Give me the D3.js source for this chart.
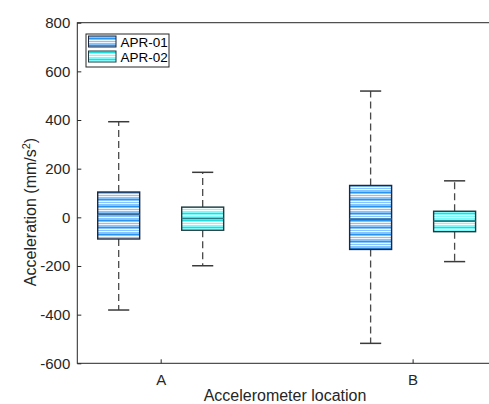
<!DOCTYPE html>
<html>
<head>
<meta charset="utf-8">
<script src="https://cdn.jsdelivr.net/npm/d3@7"></script>
<style>
  html, body { margin: 0; padding: 0; background: #fff; }
  svg { display: block; font-family: Arial, "Liberation Sans", sans-serif; }
</style>
</head>
<body>
<svg id="chart" width="489" height="404"></svg>
<script>
// Accelerometer locations and the two recording series
const locations = ["A", "B"];
const seriesNames = ["APR-01", "APR-02"];

// Five-number summaries per location: [lower whisker, Q1, median, Q3, upper whisker]
const apr01 = [
  [-381, -89, 11, 104, 393],
  [-518, -132, -7, 131, 519]
];
const apr02 = [
  [-199, -53, -4, 42, 185],
  [-182, -59, -16, 25, 150]
];

const yTicks = [-600, -400, -200, 0, 200, 400, 600, 800];

const svg = d3.select("#chart");
const margin = { left: 77.3, top: 22.7, right: 496, bottom: 363.3 };

const x = d3.scaleLinear().domain([0.669, 2.331]).range([margin.left, margin.right]);
const y = d3.scaleLinear().domain([-600, 800]).range([margin.bottom, margin.top]);

const textColor = "#262626";
const fontFamily = "Arial, 'Liberation Sans', sans-serif";

// Striped fills for the two series
const defs = svg.append("defs");
function stripePattern(id, base, light, dark) {
  const p = defs.append("pattern")
    .attr("id", id).attr("patternUnits", "userSpaceOnUse")
    .attr("width", 8).attr("height", 7);
  p.append("rect").attr("width", 8).attr("height", 7).attr("fill", base);
  p.append("rect").attr("y", 0).attr("width", 8).attr("height", 1).attr("fill", light);
  p.append("rect").attr("y", 3).attr("width", 8).attr("height", 1).attr("fill", dark);
  p.append("rect").attr("y", 5).attr("width", 8).attr("height", 1).attr("fill", light);
}
stripePattern("fill01", "#86c4fb", "#eef6ff", "#2793f5");
stripePattern("fill02", "#7ffafa", "#f0ffff", "#22dcdc");

const series = [
  { name: seriesNames[0], data: apr01, offset: -0.1667, fill: "url(#fill01)", median: "#3b6c99", edge: "#1c2740" },
  { name: seriesNames[1], data: apr02, offset: 0.1667, fill: "url(#fill02)", median: "#2a7b86", edge: "#1e3a40" }
];

const halfBox = 0.0833;
const halfCap = 0.042;

// Boxes and whiskers
series.forEach(s => {
  const g = svg.append("g");
  s.data.forEach((d, i) => {
    const cx = i + 1 + s.offset;
    const [lo, q1, med, q3, hi] = d;
    // whiskers
    [[q3, hi], [q1, lo]].forEach(([a, b]) => {
      g.append("line")
        .attr("x1", x(cx)).attr("x2", x(cx))
        .attr("y1", y(a)).attr("y2", y(b))
        .attr("stroke", "#4a4a4a").attr("stroke-width", 1.3)
        .attr("stroke-dasharray", "7,4");
    });
    // caps
    [lo, hi].forEach(v => {
      g.append("line")
        .attr("x1", x(cx - halfCap)).attr("x2", x(cx + halfCap))
        .attr("y1", y(v)).attr("y2", y(v))
        .attr("stroke", "#3a3a3a").attr("stroke-width", 1.5);
    });
    // box
    g.append("rect")
      .attr("x", x(cx - halfBox)).attr("y", y(q3))
      .attr("width", x(cx + halfBox) - x(cx - halfBox))
      .attr("height", y(q1) - y(q3))
      .attr("fill", s.fill)
      .attr("stroke", s.edge).attr("stroke-width", 1.4);
    // median
    g.append("line")
      .attr("x1", x(cx - halfBox)).attr("x2", x(cx + halfBox))
      .attr("y1", y(med)).attr("y2", y(med))
      .attr("stroke", s.median).attr("stroke-width", 1.8);
  });
});

// Axes frame
svg.append("rect")
  .attr("x", margin.left).attr("y", margin.top)
  .attr("width", margin.right - margin.left).attr("height", margin.bottom - margin.top)
  .attr("fill", "none").attr("stroke", textColor).attr("stroke-width", 1);

// Y axis (plain hyphen for negative values)
const yAxis = svg.append("g")
  .attr("transform", `translate(${margin.left},0)`)
  .call(d3.axisLeft(y).tickValues(yTicks).tickFormat(d => String(d))
    .tickSizeInner(-4).tickSizeOuter(0).tickPadding(7));
yAxis.select(".domain").remove();
yAxis.selectAll("line").attr("stroke", textColor);
yAxis.selectAll("text").attr("fill", textColor).style("font-size", "15px")
  .style("font-family", fontFamily);

// X axis
const xAxis = svg.append("g")
  .attr("transform", `translate(0,${margin.bottom})`)
  .call(d3.axisBottom(x).tickValues([1, 2]).tickFormat((d, i) => locations[i])
    .tickSizeInner(-4).tickSizeOuter(0).tickPadding(11));
xAxis.select(".domain").remove();
xAxis.selectAll("line").attr("stroke", textColor);
xAxis.selectAll("text").attr("fill", textColor).style("font-size", "15px")
  .style("font-family", fontFamily);

// Axis titles
svg.append("text")
  .attr("x", 285).attr("y", 401)
  .attr("text-anchor", "middle").attr("fill", textColor)
  .style("font-size", "16px")
  .text("Accelerometer location");

const yTitle = svg.append("text")
  .attr("transform", "translate(35.5,212) rotate(-90)")
  .attr("text-anchor", "middle").attr("fill", textColor)
  .style("font-size", "16px");
yTitle.append("tspan").text("Acceleration (mm/s");
yTitle.append("tspan").attr("dy", -6).style("font-size", "11px").text("2");
yTitle.append("tspan").attr("dy", 6).text(")");

// Legend
const legend = svg.append("g");
legend.append("rect")
  .attr("x", 86).attr("y", 34).attr("width", 83).attr("height", 33)
  .attr("fill", "#fff").attr("stroke", textColor).attr("stroke-width", 1);
series.forEach((s, i) => {
  const yy = 36 + i * 15;
  legend.append("rect")
    .attr("x", 88.5).attr("y", yy).attr("width", 27.5).attr("height", 11)
    .attr("fill", s.fill).attr("stroke", s.edge).attr("stroke-width", 1);
  legend.append("text")
    .attr("x", 120.5).attr("y", yy + 10.5)
    .attr("fill", "#000").style("font-size", "13.5px")
    .text(s.name);
});
</script>
</body>
</html>
